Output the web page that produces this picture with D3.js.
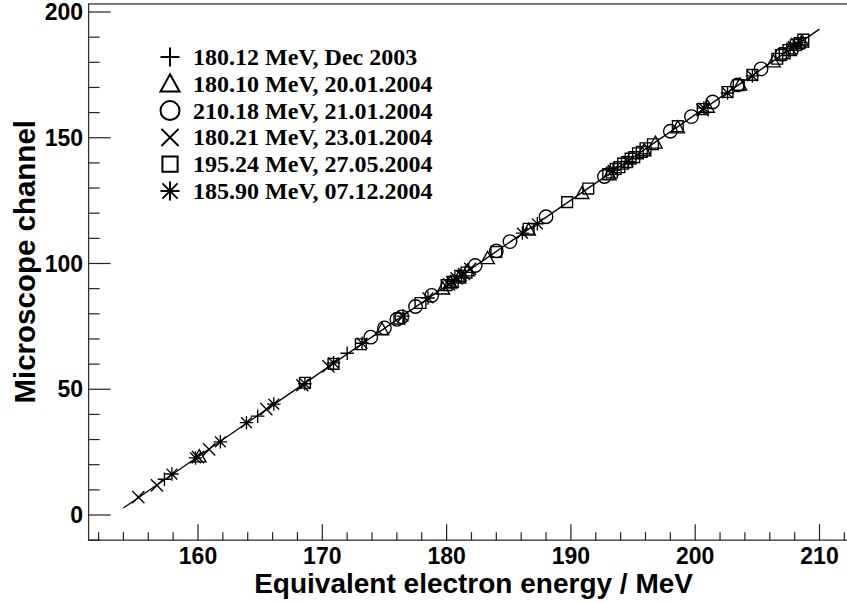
<!DOCTYPE html>
<html>
<head>
<meta charset="utf-8">
<script src="https://cdn.jsdelivr.net/npm/d3@7"></script>
<style>
  body { margin: 0; background: #fff; }
  svg { display: block; }
</style>
</head>
<body>
<svg width="847" height="603"></svg>
<script>
(function() {
    "use strict";

    // series: equivalent energy (MeV) vs microscope channel
    var plusE  = [157.3, 164.8, 172.0, 180.6, 181.5];
    var plusY  = [14.2, 39.3, 64.3, 93.0, 96.5];

    var triE = [160.1, 174.8, 179.7, 180.3, 181.0, 181.7, 183.3, 186.6, 190.9, 193.1, 195.9, 196.8, 198.6, 201.0, 203.6, 206.3, 207.6, 208.6];
    var triY = [23.3, 73.8, 90.0, 92.4, 94.4, 97.2, 102.1, 113.4, 128.0, 135.4, 145.0, 148.0, 154.1, 162.3, 171.1, 180.3, 184.8, 188.2];

    var circE = [173.9, 175.0, 176.0, 176.4, 177.5, 178.8, 182.3, 184.0, 185.1, 188.0, 192.7, 198.0, 199.7, 201.4, 203.4, 205.3, 207.0];
    var circY = [70.7, 74.4, 77.8, 78.8, 82.9, 87.3, 99.2, 105.0, 108.7, 118.6, 134.6, 152.6, 158.4, 164.2, 171.0, 177.4, 183.2];

    var crossE = [155.2, 156.7, 160.0, 160.9, 165.5, 168.4, 170.5, 180.2, 180.8, 181.4, 181.9, 200.6, 208.2];
    var crossY = [7.1, 11.8, 23.0, 26.1, 42.1, 51.6, 59.1, 91.7, 94.1, 95.8, 97.9, 161.0, 187.3];

    var sqE = [168.6, 170.9, 173.1, 176.2, 177.9, 180.0, 180.5, 181.1, 181.6, 184.0, 186.6, 189.7, 191.4,
               193.0, 193.3, 193.6, 193.9, 194.2, 194.5, 194.8, 195.1, 195.4, 195.7, 196.0, 196.6, 198.6,
               200.6, 202.6, 203.5, 204.6, 206.6, 206.9, 207.2, 207.5, 207.8, 208.1, 208.4, 208.7];
    var sqY = [52.6, 60.1, 67.9, 78.1, 84.3, 91.4, 92.7, 95.1, 96.4, 104.6, 113.8, 124.4, 129.8,
               135.6, 136.2, 137.6, 138.3, 139.7, 140.3, 141.7, 142.3, 143.8, 144.4, 145.8, 147.4, 154.6,
               161.4, 168.2, 170.9, 175.0, 181.4, 182.9, 183.5, 184.9, 185.5, 186.9, 187.6, 189.0];

    var starE = [157.9, 159.8, 161.8, 163.9, 166.1, 168.6, 170.9, 173.2, 176.5, 178.5, 180.4, 181.2, 186.1, 187.3, 193.4, 194.6, 200.7, 202.6, 204.6, 207.9, 208.5];
    var starY = [16.3, 22.7, 29.1, 36.7, 44.1, 52.2, 60.5, 68.3, 79.1, 86.3, 92.8, 95.1, 112.1, 115.8, 137.0, 140.6, 161.8, 167.8, 174.6, 186.3, 187.9];

    // straight-line fit
    var fitE = [154.0, 210.0];
    var fitY = [2.8, 193.2];

    var legendLabels = [
        "180.12 MeV, Dec 2003",
        "180.10 MeV, 20.01.2004",
        "210.18 MeV, 21.01.2004",
        "180.21 MeV, 23.01.2004",
        "195.24 MeV, 27.05.2004",
        "185.90 MeV, 07.12.2004"
    ];
    var markerKinds = ["plus", "triangle", "circle", "cross", "square", "star"];

    var xMajor = [160, 170, 180, 190, 200, 210];
    var yMajor = [0, 50, 100, 150, 200];

    var svg = d3.select("svg");

    var x = d3.scaleLinear().domain([160, 210]).range([198, 819.5]);
    var y = d3.scaleLinear().domain([0, 200]).range([515, 12]);
    var xMin = 151.2, xMax = 212.5, yMin = -10, yMax = 203.2;

    function markerPath(kind, s) {
        var h = s / 2;
        var k = h * 0.8;
        var c = h * 0.9;
        switch (kind) {
            case "plus": return "M" + (-h) + ",0H" + h + "M0," + (-h) + "V" + h;
            case "triangle": return "M0," + (-h) + "L" + h + "," + (h * 0.8) + "L" + (-h) + "," + (h * 0.8) + "Z";
            case "circle": return "M" + h + ",0A" + h + "," + h + " 0 1,1 " + (-h) + ",0A" + h + "," + h + " 0 1,1 " + h + ",0Z";
            case "cross": return "M" + (-c) + "," + (-c) + "L" + c + "," + c + "M" + (-c) + "," + c + "L" + c + "," + (-c);
            case "square": return "M" + (-k) + "," + (-k) + "H" + k + "V" + k + "H" + (-k) + "Z";
            case "star": return "M" + (-h) + ",0H" + h + "M0," + (-h) + "V" + h +
                "M" + (-k) + "," + (-k) + "L" + k + "," + k + "M" + (-k) + "," + k + "L" + k + "," + (-k);
        }
    }

    // frame
    svg.append("rect")
        .attr("x", x(xMin)).attr("y", y(yMax))
        .attr("width", x(xMax) - x(xMin)).attr("height", y(yMin) - y(yMax))
        .attr("fill", "none").attr("stroke", "#333").attr("stroke-width", 1.3);

    // x ticks
    var xMinor = d3.range(152, 213, 2).filter(function(v) { return v % 10 !== 0; });
    svg.append("g").selectAll("line").data(xMinor).enter().append("line")
        .attr("x1", function(d) { return x(d); }).attr("x2", function(d) { return x(d); })
        .attr("y1", y(yMin)).attr("y2", y(yMin) - 8)
        .attr("stroke", "#222").attr("stroke-width", 1.2);
    svg.append("g").selectAll("line").data(xMajor).enter().append("line")
        .attr("x1", function(d) { return x(d); }).attr("x2", function(d) { return x(d); })
        .attr("y1", y(yMin)).attr("y2", y(yMin) - 16)
        .attr("stroke", "#222").attr("stroke-width", 1.2);
    svg.append("g").selectAll("text").data(xMajor).enter().append("text")
        .attr("x", function(d) { return x(d); }).attr("y", 564)
        .attr("text-anchor", "middle")
        .style("font", "bold 23px 'Liberation Sans', Arial, sans-serif")
        .text(function(d) { return d; });

    // y ticks
    var yMinor = d3.range(-10, 201, 10).filter(function(v) { return v % 50 !== 0; });
    svg.append("g").selectAll("line").data(yMinor).enter().append("line")
        .attr("x1", x(xMin)).attr("x2", x(xMin) + 11)
        .attr("y1", function(d) { return y(d); }).attr("y2", function(d) { return y(d); })
        .attr("stroke", "#222").attr("stroke-width", 1.2);
    svg.append("g").selectAll("line").data(yMajor).enter().append("line")
        .attr("x1", x(xMin)).attr("x2", x(xMin) + 22)
        .attr("y1", function(d) { return y(d); }).attr("y2", function(d) { return y(d); })
        .attr("stroke", "#222").attr("stroke-width", 1.2);
    svg.append("g").selectAll("text").data(yMajor).enter().append("text")
        .attr("x", 83).attr("y", function(d) { return y(d) + 8; })
        .attr("text-anchor", "end")
        .style("font", "bold 23px 'Liberation Sans', Arial, sans-serif")
        .text(function(d) { return d; });

    // axis titles
    svg.append("text")
        .attr("x", 693).attr("y", 593)
        .attr("text-anchor", "end")
        .style("font", "bold 28px 'Liberation Sans', Arial, sans-serif")
        .text("Equivalent electron energy / MeV");
    svg.append("text")
        .attr("transform", "translate(35,120) rotate(-90)")
        .attr("text-anchor", "end")
        .style("font", "bold 29.5px 'Liberation Sans', Arial, sans-serif")
        .text("Microscope channel");

    // fit line
    svg.append("line")
        .attr("x1", x(fitE[0])).attr("y1", y(fitY[0]))
        .attr("x2", x(fitE[1])).attr("y2", y(fitY[1]))
        .attr("stroke", "#000").attr("stroke-width", 1.4);

    // points
    var series = [
        { kind: "plus", e: plusE, v: plusY },
        { kind: "triangle", e: triE, v: triY },
        { kind: "circle", e: circE, v: circY },
        { kind: "cross", e: crossE, v: crossY },
        { kind: "square", e: sqE, v: sqY },
        { kind: "star", e: starE, v: starY }
    ];
    series.forEach(function(s) {
        var pts = s.e.map(function(e, i) { return [e, s.v[i]]; });
        svg.append("g").selectAll("path").data(pts).enter().append("path")
            .attr("transform", function(d) { return "translate(" + x(d[0]) + "," + y(d[1]) + ")"; })
            .attr("d", markerPath(s.kind, 13.5))
            .attr("fill", "none").attr("stroke", "#000").attr("stroke-width", 1.35);
    });

    // legend
    var leg = svg.append("g").selectAll("g").data(legendLabels).enter().append("g")
        .attr("transform", function(d, i) { return "translate(170," + (57 + i * 26.8) + ")"; });
    leg.append("path")
        .attr("d", function(d, i) { return markerPath(markerKinds[i], 19); })
        .attr("fill", "none").attr("stroke", "#000").attr("stroke-width", 2);
    leg.append("text")
        .attr("x", 23).attr("y", 8)
        .style("font", "bold 24px 'Liberation Serif', 'Times New Roman', serif")
        .text(function(d) { return d; });
})();
</script>
</body>
</html>
